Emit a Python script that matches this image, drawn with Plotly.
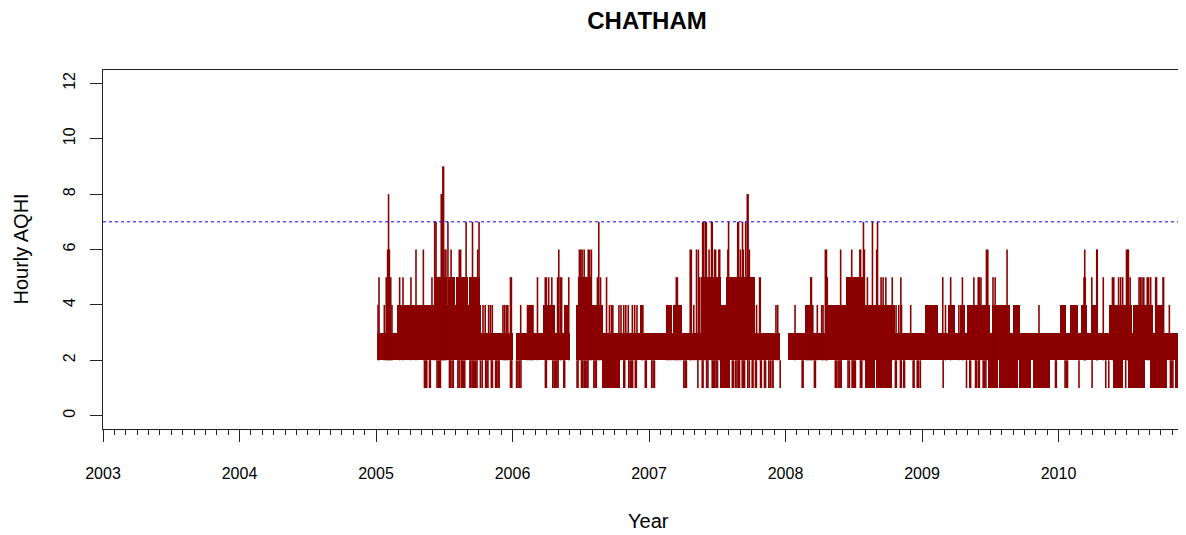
import plotly.graph_objects as go

SITE = "CHATHAM"
Y_LABEL = "Hourly AQHI"
X_LABEL = "Year"
YEAR_TICKS = [2003, 2004, 2005, 2006, 2007, 2008, 2009, 2010]
Y_TICKS = [0, 2, 4, 6, 8, 10, 12]
X_RANGE = [2003.0, 2010.934]
Y_RANGE = [-0.48, 12.48]
THRESHOLD = 7
BASE_LEVEL = 2

# dense hourly bands: (start year, end year, low AQHI, high AQHI)
blocks = [
    (2005.008, 2005.152, 2, 3), (2005.152, 2005.425, 2, 4), (2005.425, 2005.770, 2, 4),
    (2005.425, 2005.468, 4, 5), (2005.472, 2005.520, 4, 5), (2005.525, 2005.580, 4, 5),
    (2005.586, 2005.672, 4, 5), (2005.680, 2005.765, 4, 5),
    (2005.770, 2006.006, 2, 3), (2006.026, 2006.423, 2, 3), (2006.104, 2006.152, 2, 4),
    (2006.226, 2006.311, 2, 4), (2006.379, 2006.416, 2, 4), (2006.465, 2006.665, 2, 4),
    (2006.482, 2006.585, 2, 5), (2006.665, 2006.934, 2, 3), (2006.653, 2006.787, 1, 2),
    (2006.934, 2007.381, 2, 3), (2006.934, 2006.958, 2, 4), (2007.125, 2007.166, 2, 4),
    (2007.178, 2007.239, 2, 4), (2007.381, 2007.525, 2, 5), (2007.525, 2007.564, 2, 4),
    (2007.564, 2007.776, 2, 5), (2007.776, 2007.962, 2, 3), (2007.520, 2007.593, 1, 2),
    (2008.021, 2008.289, 2, 3), (2008.143, 2008.204, 2, 4), (2008.289, 2008.441, 2, 4),
    (2008.441, 2008.583, 2, 5), (2008.583, 2008.802, 2, 4), (2008.802, 2010.934, 2, 3),
    (2008.582, 2008.656, 1, 2), (2008.660, 2008.778, 1, 2), (2009.022, 2009.120, 2, 4),
    (2009.193, 2009.242, 2, 4), (2009.278, 2009.315, 2, 4), (2009.327, 2009.498, 2, 4),
    (2009.510, 2009.645, 2, 4), (2009.669, 2009.718, 2, 4), (2009.486, 2009.560, 1, 2),
    (2009.566, 2009.700, 1, 2), (2009.708, 2009.800, 1, 2), (2009.810, 2009.938, 1, 2),
    (2010.011, 2010.052, 2, 4), (2010.084, 2010.145, 2, 4), (2010.165, 2010.206, 2, 4),
    (2010.243, 2010.292, 2, 4), (2010.370, 2010.536, 2, 4), (2010.548, 2010.695, 2, 4),
    (2010.707, 2010.768, 2, 4), (2010.402, 2010.475, 1, 2), (2010.512, 2010.634, 1, 2),
    (2010.670, 2010.792, 1, 2), (2010.853, 2010.927, 1, 2),
]

# individual hourly excursions: (year, AQHI)
spikes = [
    # 2005 peaks
    (2005.015, 4), (2005.022, 5), (2005.061, 4), (2005.075, 5), (2005.085, 6), (2005.092, 8),
    (2005.098, 6), (2005.108, 5), (2005.117, 4), (2005.173, 5), (2005.198, 5), (2005.256, 5),
    (2005.293, 6), (2005.347, 6), (2005.410, 5), (2005.430, 7), (2005.440, 7), (2005.478, 8),
    (2005.483, 8), (2005.490, 9), (2005.495, 9), (2005.506, 6), (2005.512, 6), (2005.527, 7),
    (2005.550, 6), (2005.610, 6), (2005.620, 6), (2005.660, 7), (2005.707, 7), (2005.745, 6),
    (2005.755, 7), (2005.784, 4), (2005.800, 4), (2005.825, 4), (2005.838, 4), (2005.852, 4),
    (2005.930, 4), (2005.942, 4), (2005.955, 4), (2005.966, 4), (2005.985, 5), (2005.992, 5),
    # 2005 dips
    (2005.355, 1), (2005.365, 1), (2005.372, 1), (2005.392, 1), (2005.398, 1), (2005.447, 1),
    (2005.456, 1), (2005.465, 1), (2005.472, 1), (2005.538, 1), (2005.545, 1), (2005.557, 1),
    (2005.566, 1), (2005.600, 1), (2005.609, 1), (2005.624, 1), (2005.633, 1), (2005.641, 1),
    (2005.650, 1), (2005.688, 1), (2005.694, 1), (2005.704, 1), (2005.713, 1), (2005.722, 1),
    (2005.731, 1), (2005.740, 1), (2005.765, 1), (2005.778, 1), (2005.803, 1), (2005.812, 1),
    (2005.820, 1), (2005.845, 1), (2005.853, 1), (2005.876, 1), (2005.885, 1), (2005.895, 1),
    (2005.902, 1), (2005.985, 1), (2005.995, 1),
    # 2006 peaks
    (2006.060, 4), (2006.110, 4), (2006.125, 4), (2006.140, 4), (2006.150, 4), (2006.183, 5),
    (2006.240, 5), (2006.248, 5), (2006.265, 5), (2006.288, 5), (2006.330, 5), (2006.339, 6),
    (2006.350, 5), (2006.360, 5), (2006.412, 5), (2006.485, 5), (2006.490, 6), (2006.500, 6),
    (2006.510, 6), (2006.525, 6), (2006.555, 6), (2006.565, 6), (2006.578, 6), (2006.622, 5),
    (2006.632, 7), (2006.645, 5), (2006.689, 5), (2006.710, 4), (2006.725, 4), (2006.735, 4),
    (2006.780, 4), (2006.795, 4), (2006.815, 4), (2006.830, 4), (2006.848, 4), (2006.878, 4),
    (2006.895, 4), (2006.912, 4), (2006.945, 4), (2006.955, 4),
    # 2006 dips
    (2006.030, 1), (2006.040, 1), (2006.050, 1), (2006.062, 1), (2006.241, 1), (2006.248, 1),
    (2006.295, 1), (2006.305, 1), (2006.315, 1), (2006.325, 1), (2006.334, 1), (2006.376, 1),
    (2006.382, 1), (2006.473, 1), (2006.480, 1), (2006.505, 1), (2006.515, 1), (2006.525, 1),
    (2006.535, 1), (2006.545, 1), (2006.553, 1), (2006.596, 1), (2006.605, 1), (2006.614, 1),
    (2006.815, 1), (2006.822, 1), (2006.852, 1), (2006.862, 1), (2006.872, 1), (2006.880, 1),
    (2006.900, 1), (2006.907, 1), (2006.973, 1), (2006.980, 1),
    # 2007 peaks
    (2007.130, 4), (2007.145, 4), (2007.160, 4), (2007.185, 4), (2007.200, 5), (2007.208, 5),
    (2007.225, 4), (2007.235, 4), (2007.302, 6), (2007.310, 6), (2007.328, 4), (2007.348, 6),
    (2007.362, 6), (2007.372, 5), (2007.393, 7), (2007.400, 7), (2007.413, 7), (2007.420, 7),
    (2007.440, 6), (2007.458, 7), (2007.463, 7), (2007.480, 6), (2007.488, 6), (2007.512, 6),
    (2007.518, 6), (2007.578, 6), (2007.583, 7), (2007.650, 7), (2007.656, 7), (2007.670, 6),
    (2007.685, 7), (2007.690, 6), (2007.708, 7), (2007.720, 8), (2007.726, 8), (2007.735, 6),
    (2007.760, 5), (2007.770, 5), (2007.788, 4), (2007.810, 5), (2007.815, 5), (2007.930, 4),
    (2007.943, 4),
    # 2007 dips
    (2007.020, 1), (2007.030, 1), (2007.040, 1), (2007.255, 1), (2007.265, 1), (2007.274, 1),
    (2007.358, 1), (2007.390, 1), (2007.396, 1), (2007.422, 1), (2007.432, 1), (2007.463, 1),
    (2007.472, 1), (2007.482, 1), (2007.492, 1), (2007.502, 1), (2007.610, 1), (2007.620, 1),
    (2007.635, 1), (2007.645, 1), (2007.655, 1), (2007.663, 1), (2007.683, 1), (2007.692, 1),
    (2007.700, 1), (2007.724, 1), (2007.735, 1), (2007.756, 1), (2007.762, 1), (2007.780, 1),
    (2007.787, 1), (2007.817, 1), (2007.823, 1), (2007.846, 1), (2007.854, 1), (2007.878, 1),
    (2007.888, 1), (2007.902, 1), (2007.909, 1), (2007.961, 1),
    # 2008 peaks
    (2008.070, 4), (2008.150, 4), (2008.160, 4), (2008.170, 4), (2008.185, 5), (2008.190, 5),
    (2008.200, 4), (2008.233, 4), (2008.265, 4), (2008.275, 4), (2008.292, 6), (2008.300, 6),
    (2008.306, 5), (2008.404, 6), (2008.485, 6), (2008.545, 6), (2008.550, 6), (2008.571, 7),
    (2008.578, 6), (2008.600, 5), (2008.637, 7), (2008.668, 6), (2008.674, 7), (2008.700, 5),
    (2008.715, 5), (2008.735, 5), (2008.782, 5), (2008.810, 4), (2008.830, 4), (2008.845, 5),
    (2008.850, 4), (2008.917, 4),
    # 2008 dips
    (2008.122, 1), (2008.129, 1), (2008.212, 1), (2008.219, 1), (2008.365, 1), (2008.372, 1),
    (2008.385, 1), (2008.392, 1), (2008.400, 1), (2008.408, 1), (2008.458, 1), (2008.468, 1),
    (2008.488, 1), (2008.496, 1), (2008.504, 1), (2008.512, 1), (2008.549, 1), (2008.559, 1),
    (2008.805, 1), (2008.812, 1), (2008.842, 1), (2008.848, 1), (2008.866, 1), (2008.872, 1),
    (2008.935, 1), (2008.942, 1), (2008.965, 1), (2008.975, 1), (2008.988, 1),
    # 2009 peaks
    (2009.152, 5), (2009.172, 4), (2009.210, 5), (2009.270, 4), (2009.296, 5), (2009.380, 5),
    (2009.412, 5), (2009.420, 5), (2009.432, 5), (2009.472, 6), (2009.482, 6), (2009.520, 5),
    (2009.536, 5), (2009.623, 6), (2009.857, 4),
    # 2009 dips
    (2009.155, 1), (2009.326, 1), (2009.350, 1), (2009.356, 1), (2009.392, 1), (2009.398, 1),
    (2009.412, 1), (2009.420, 1), (2009.448, 1), (2009.458, 1), (2009.468, 1), (2009.978, 1),
    (2009.984, 1),
    # 2010 peaks
    (2010.187, 5), (2010.192, 6), (2010.196, 5), (2010.244, 5), (2010.280, 6), (2010.284, 6),
    (2010.328, 5), (2010.395, 5), (2010.405, 5), (2010.440, 5), (2010.455, 5), (2010.470, 5),
    (2010.498, 6), (2010.505, 6), (2010.512, 6), (2010.525, 5), (2010.590, 5), (2010.600, 5),
    (2010.612, 5), (2010.625, 5), (2010.650, 5), (2010.660, 5), (2010.675, 5), (2010.712, 5),
    (2010.718, 5), (2010.766, 5), (2010.770, 5), (2010.812, 4),
    # 2010 dips
    (2010.048, 1), (2010.056, 1), (2010.066, 1), (2010.150, 1), (2010.246, 1), (2010.346, 1),
    (2010.368, 1), (2010.492, 1), (2010.820, 1), (2010.830, 1), (2010.838, 1),
]

LINE_COLOR = "#8B0000"
FONT = "Liberation Sans, Arial, Helvetica, sans-serif"

# the page body adds an 8 px offset, so the figure is laid out to compensate
FIG_W, FIG_H = 1178, 527

fig = go.Figure()

fig.add_trace(go.Bar(
    x=[(s + e) / 2 for s, e, lo, hi in blocks],
    y=[hi - lo for s, e, lo, hi in blocks],
    base=[lo for s, e, lo, hi in blocks],
    width=[e - s for s, e, lo, hi in blocks],
    marker=dict(color=LINE_COLOR, line=dict(width=0)),
    showlegend=False, hoverinfo="skip",
))

sx, sy = [], []
for t, v in spikes:
    sx += [t, t, None]
    sy += [BASE_LEVEL, v, None]
fig.add_trace(go.Scatter(
    x=sx, y=sy, mode="lines",
    line=dict(color=LINE_COLOR, width=1.6),
    showlegend=False, hoverinfo="skip",
))

fig.add_hline(y=THRESHOLD, line=dict(color="blue", width=1, dash="dot"))

fig.update_layout(
    width=FIG_W, height=FIG_H,
    margin=dict(l=95, r=0, t=62, b=106, autoexpand=False),
    plot_bgcolor="white", paper_bgcolor="white",
    font=dict(family=FONT, color="black", size=16),
    bargap=0,
    title=dict(text="<b>" + SITE + "</b>", x=639 / FIG_W, xref="container", xanchor="center",
               y=1 - 13 / FIG_H, yref="container", yanchor="middle",
               font=dict(size=24, family=FONT, color="black")),
    xaxis=dict(range=X_RANGE, tickmode="array", tickvals=YEAR_TICKS,
               ticktext=[str(y) for y in YEAR_TICKS], automargin=False,
               ticks="outside", ticklen=12, tickwidth=1, tickcolor="#222",
               showline=True, linecolor="#222", linewidth=1.3, mirror=True,
               showgrid=False, zeroline=False, ticklabelstandoff=18,
               tickfont=dict(size=16),
               minor=dict(tick0=2003, dtick=1 / 12, ticks="outside", ticklen=5,
                          tickwidth=1, tickcolor="#222", showgrid=False)),
    yaxis=dict(range=Y_RANGE, tickmode="array", tickvals=Y_TICKS, automargin=False,
               ticks="outside", ticklen=12, tickwidth=1, tickcolor="#222",
               showline=True, linecolor="#222", linewidth=1.3, mirror=False,
               showgrid=False, zeroline=False, tickangle=-90, ticklabelstandoff=8,
               tickfont=dict(size=16)),
    annotations=[
        dict(text=Y_LABEL, xref="paper", yref="paper", x=(20 - 103) / 1083, y=0.5,
             textangle=-90, showarrow=False, xanchor="center", yanchor="middle",
             font=dict(size=20, family=FONT)),
        dict(text=X_LABEL, xref="paper", yref="paper", x=(648 - 103) / 1083,
             y=(429 - 521) / 359, showarrow=False, xanchor="center", yanchor="middle",
             font=dict(size=20, family=FONT)),
    ],
)

fig.write_html("out.html")
